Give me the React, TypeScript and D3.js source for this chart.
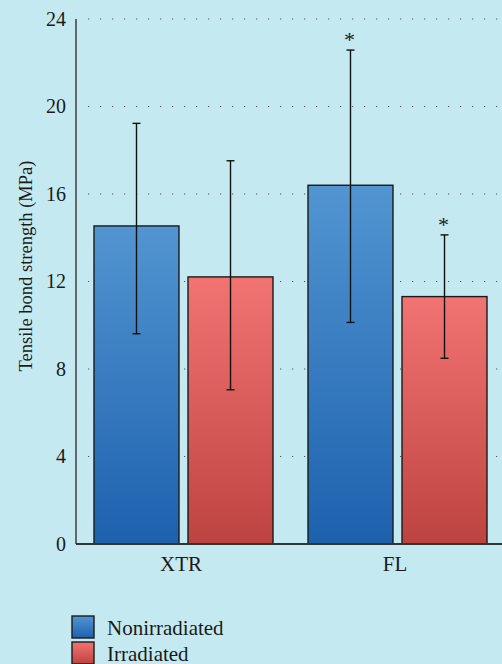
import React from "react";
import * as d3 from "d3";

const categories = ["XTR", "FL"];
const seriesNames = ["Nonirradiated", "Irradiated"];
const means = [
  [14.54, 12.21],
  [16.4, 11.31],
];
const errUpper = [
  [19.23, 17.52],
  [22.58, 14.13],
];
const errLower = [
  [9.61, 7.05],
  [10.13, 8.49],
];
const significant = [
  [false, false],
  [true, true],
];
const yTicks = [0, 4, 8, 12, 16, 20, 24];

const W = 502;
const H = 664;
const FONT = "'Liberation Serif', 'DejaVu Serif', serif";

export default function App() {
  const x0 = d3.scaleBand<string>().domain(categories).range([76, 504]).paddingInner(0).paddingOuter(0);
  const x1 = d3
    .scaleBand<string>()
    .domain(seriesNames)
    .range([18, 214 - 17])
    .paddingInner(0.096);
  const y = d3.scaleLinear().domain([0, 24]).range([544, 19]);

  const left = 76;
  const right = W;

  return (
    <svg
      width={W}
      height={H}
      style={{ position: "absolute", left: 0, top: 0, background: "#c5e9f1" }}
      fontFamily={FONT}
    >
      <defs>
        <linearGradient id="gBlue" x1="0" y1="0" x2="0" y2="1">
          <stop offset="0%" stopColor="#5295d1" />
          <stop offset="100%" stopColor="#1d61ae" />
        </linearGradient>
        <linearGradient id="gRed" x1="0" y1="0" x2="0" y2="1">
          <stop offset="0%" stopColor="#f27472" />
          <stop offset="100%" stopColor="#bd4341" />
        </linearGradient>
      </defs>
      <rect x={0} y={0} width={W} height={H} fill="#c5e9f1" />

      {/* gridlines */}
      {yTicks
        .filter((t) => t > 0)
        .map((t) => (
          <line
            key={t}
            x1={left + 12}
            x2={right}
            y1={y(t)}
            y2={y(t)}
            stroke="#555"
            strokeWidth={1.2}
            strokeDasharray="1.2 10.8"
          />
        ))}

      {/* bars */}
      {categories.map((c, ci) =>
        seriesNames.map((s, si) => {
          const bx = (x0(c) as number) + (x1(s) as number);
          const bw = x1.bandwidth();
          return (
            <rect
              key={c + s}
              x={bx}
              y={y(means[ci][si])}
              width={bw}
              height={y(0) - y(means[ci][si])}
              fill={si === 0 ? "url(#gBlue)" : "url(#gRed)"}
              stroke="#1a1a1a"
              strokeWidth={1.4}
            />
          );
        })
      )}

      {/* error bars */}
      {categories.map((c, ci) =>
        seriesNames.map((s, si) => {
          const cx = (x0(c) as number) + (x1(s) as number) + x1.bandwidth() / 2;
          const yt = y(errUpper[ci][si]);
          const yb = y(errLower[ci][si]);
          return (
            <g key={"e" + c + s} stroke="#111" strokeWidth={1.4}>
              <line x1={cx} x2={cx} y1={yt} y2={yb} />
              <line x1={cx - 4} x2={cx + 4} y1={yt} y2={yt} />
              <line x1={cx - 4} x2={cx + 4} y1={yb} y2={yb} />
              {significant[ci][si] && (
                <text
                  x={cx - 1}
                  y={yt - 3}
                  textAnchor="middle"
                  fontSize={22}
                  fill="#222"
                  stroke="none"
                >
                  *
                </text>
              )}
            </g>
          );
        })
      )}

      {/* axes */}
      <line x1={left} x2={left} y1={y(24)} y2={y(0)} stroke="#333" strokeWidth={1.4} />
      <line x1={left} x2={right} y1={y(0)} y2={y(0)} stroke="#333" strokeWidth={1.8} />

      {yTicks.map((t) => (
        <text
          key={"t" + t}
          x={66}
          y={y(t) + 6.8}
          textAnchor="end"
          fontSize={20}
          fill="#1a1a1a"
        >
          {t}
        </text>
      ))}

      {categories.map((c) => (
        <text
          key={"c" + c}
          x={(x0(c) as number) + x0.bandwidth() / 2 - 2}
          y={571}
          textAnchor="middle"
          fontSize={21}
          fill="#1a1a1a"
        >
          {c}
        </text>
      ))}

      <text
        transform={`translate(32, 266) rotate(-90)`}
        textAnchor="middle"
        fontSize={18.5}
        fill="#1a1a1a"
      >
        Tensile bond strength (MPa)
      </text>

      {/* legend */}
      {seriesNames.map((s, i) => (
        <g key={"l" + s} transform={`translate(72, ${616 + i * 26})`}>
          <rect
            x={0}
            y={0}
            width={22}
            height={22}
            fill={i === 0 ? "url(#gBlue)" : "url(#gRed)"}
            stroke="#1a1a1a"
            strokeWidth={1.4}
          />
          <text x={35} y={19} fontSize={21} fill="#1a1a1a">
            {s}
          </text>
        </g>
      ))}
    </svg>
  );
}
